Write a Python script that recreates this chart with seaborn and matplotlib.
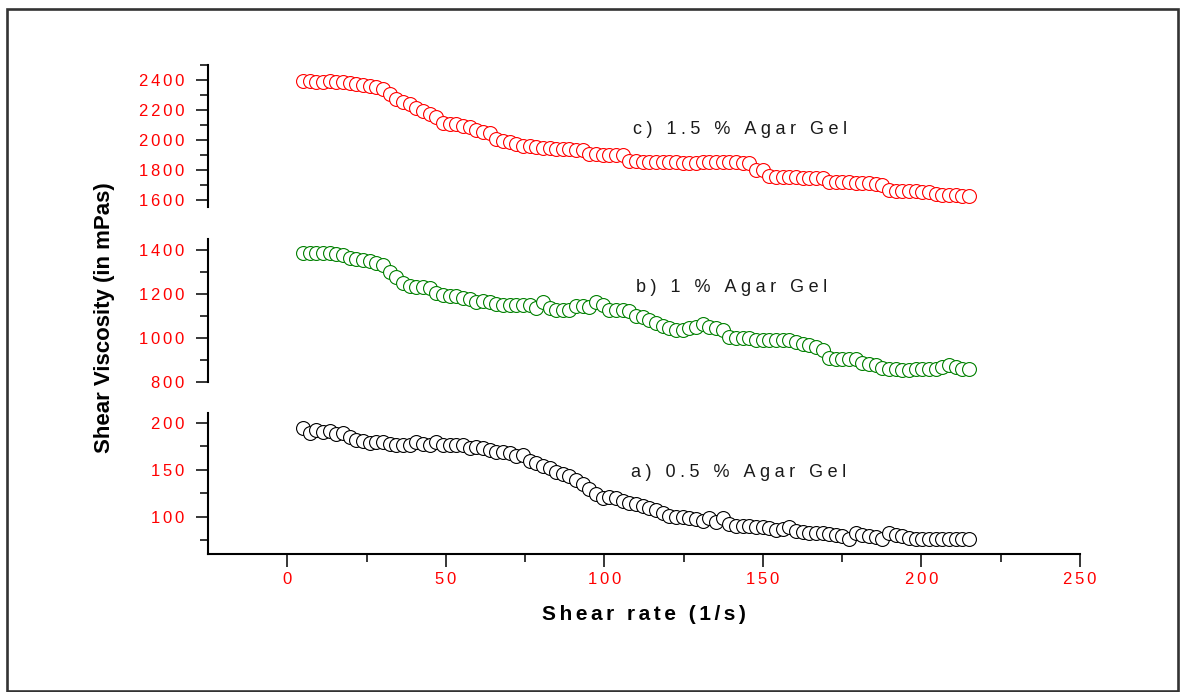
import matplotlib
matplotlib.use("Agg")
import matplotlib.pyplot as plt
import seaborn as sns
from matplotlib.ticker import MultipleLocator, FixedLocator, FuncFormatter
from matplotlib.patches import Rectangle

# Shear rate steps (1/s)
shear_rate = [
    5.0, 7.1, 9.2, 11.3, 13.4, 15.5, 17.6, 19.7, 21.8, 23.9,
    26.0, 28.1, 30.2, 32.3, 34.4, 36.5, 38.6, 40.7, 42.8, 44.9,
    47.0, 49.1, 51.2, 53.3, 55.4, 57.5, 59.6, 61.7, 63.8, 65.9,
    68.0, 70.1, 72.2, 74.3, 76.4, 78.5, 80.6, 82.7, 84.8, 86.9,
    89.0, 91.1, 93.2, 95.3, 97.4, 99.5, 101.6, 103.7, 105.8, 107.9,
    110.0, 112.1, 114.2, 116.3, 118.4, 120.5, 122.6, 124.7, 126.8, 128.9,
    131.0, 133.1, 135.2, 137.3, 139.4, 141.5, 143.6, 145.7, 147.8, 149.9,
    152.0, 154.1, 156.2, 158.3, 160.4, 162.5, 164.6, 166.7, 168.8, 170.9,
    173.0, 175.1, 177.2, 179.3, 181.4, 183.5, 185.6, 187.7, 189.8, 191.9,
    194.0, 196.1, 198.2, 200.3, 202.4, 204.5, 206.6, 208.7, 210.8, 212.9,
    215.0,
]

# Shear viscosity (mPas) of the three gels
visc_15 = [
    2390, 2390, 2388, 2385, 2390, 2388, 2383, 2378, 2370, 2365,
    2360, 2352, 2340, 2305, 2275, 2252, 2240, 2215, 2190, 2172,
    2150, 2110, 2108, 2105, 2090, 2085, 2062, 2050, 2045, 2005,
    1990, 1985, 1970, 1960, 1955, 1950, 1945, 1942, 1938, 1936,
    1935, 1934, 1932, 1905, 1902, 1900, 1900, 1898, 1898, 1858,
    1855, 1853, 1852, 1850, 1850, 1848, 1848, 1847, 1846, 1845,
    1848, 1852, 1850, 1850, 1848, 1848, 1847, 1845, 1800, 1795,
    1755, 1752, 1750, 1748, 1748, 1746, 1745, 1744, 1742, 1720,
    1718, 1716, 1714, 1712, 1710, 1708, 1705, 1700, 1662, 1660,
    1658, 1656, 1654, 1652, 1650, 1635, 1632, 1630, 1628, 1626,
    1625,
]

visc_10 = [
    1388, 1388, 1388, 1388, 1388, 1385, 1377, 1365, 1361, 1357,
    1352, 1343, 1335, 1303, 1280, 1250, 1238, 1234, 1234, 1230,
    1203, 1194, 1191, 1191, 1180, 1176, 1165, 1170, 1162, 1156,
    1152, 1148, 1148, 1148, 1148, 1137, 1164, 1137, 1129, 1129,
    1129, 1144, 1147, 1141, 1164, 1152, 1129, 1129, 1129, 1124,
    1100, 1093, 1081, 1066, 1053, 1043, 1035, 1035, 1043, 1050,
    1061, 1050, 1043, 1035, 1004, 1001, 1001, 997, 992, 992,
    992, 992, 992, 989, 981, 974, 966, 959, 943, 908,
    905, 905, 905, 905, 885, 882, 874, 863, 858, 856,
    855, 855, 856, 857, 858, 858, 866, 874, 866, 858,
    858,
]

visc_05 = [
    194.6, 189, 193, 190, 191, 188, 189, 185, 182, 180.5,
    179, 180, 180, 178, 177, 177, 176, 180, 178, 176,
    179.5, 177, 176, 176, 177, 173, 174, 173, 171, 169.5,
    169.5, 168, 165, 166, 159, 157, 154, 152, 148, 146,
    143, 139, 135, 130, 124, 120, 121, 120, 117, 115,
    113, 111, 109, 107, 104, 101, 100, 99.5, 99, 97,
    95, 99, 94, 98, 92, 90, 89.5, 89.5, 89, 89,
    88, 85.5, 87, 89, 85, 83, 82.5, 82.5, 82, 81,
    80, 79, 76, 82, 80, 79, 78, 76, 82, 80,
    79, 77, 76, 75.5, 75.5, 75.5, 75.5, 75.5, 75.5, 75.5,
    75.5,
]

panel_labels = ["c) 1.5 % Agar Gel", "b) 1 % Agar Gel", "a) 0.5 % Agar Gel"]
x_label = "Shear rate (1/s)"
y_label = "Shear Viscosity (in mPas)"

sns.set_style("white")
plt.rcParams["font.family"] = ["Liberation Sans", "DejaVu Sans"]

W, H = 1180, 692
fig = plt.figure(figsize=(W / 100, H / 100), dpi=100)


def frac_box(left, top, right, bottom):
    return [left / W, 1 - bottom / H, (right - left) / W, (bottom - top) / H]


TRACK = "\u2006"      # spacing between digits of tick labels
TEXT_TRACK = "\u2005"  # spacing between letters of panel captions


def spaced(s, sep):
    return sep.join(list(s))


tick_fmt = FuncFormatter(lambda v, p: spaced(f"{v:g}", TRACK))

panels = [
    dict(vals=visc_15, color="#ff0000", box=(208, 65, 1080, 207),
         ylim=(1550, 2500), major=200, minor=100, label=panel_labels[0],
         lab_xy=(109, 2067)),
    dict(vals=visc_10, color="#008000", box=(208, 239, 1080, 382),
         ylim=(798, 1452), major=200, minor=100, label=panel_labels[1],
         lab_xy=(110, 1231)),
    dict(vals=visc_05, color="#000000", box=(208, 413, 1080, 554),
         ylim=(60, 210.7), major=50, minor=25, label=panel_labels[2],
         lab_xy=(108.5, 147)),
]

axes = []
for i, p in enumerate(panels):
    ax = fig.add_axes(frac_box(*p["box"]))
    sns.scatterplot(x=shear_rate, y=p["vals"], ax=ax, marker="o", s=100,
                    facecolor="white", edgecolor=p["color"], linewidth=0.8,
                    legend=False, clip_on=False, zorder=3)
    ax.set_xlim(-25, 250)
    ax.set_ylim(*p["ylim"])
    ax.set_facecolor("none")
    for side in ["top", "right"]:
        ax.spines[side].set_visible(False)
    ax.spines["left"].set_linewidth(1.5)
    ax.spines["left"].set_color("black")
    ax.yaxis.set_major_locator(MultipleLocator(p["major"]))
    ax.yaxis.set_minor_locator(MultipleLocator(p["minor"]))
    ax.yaxis.set_major_formatter(tick_fmt)
    ax.tick_params(axis="y", which="major", direction="out", length=9,
                   width=1.1, color="black", labelcolor="#ff0000",
                   labelsize=12, pad=8, left=True)
    ax.tick_params(axis="y", which="minor", direction="out", length=6,
                   width=1.1, color="black", left=True)
    if i < 2:
        ax.spines["bottom"].set_visible(False)
        ax.tick_params(axis="x", which="both", bottom=False, labelbottom=False)
    else:
        ax.spines["bottom"].set_linewidth(1.5)
        ax.spines["bottom"].set_color("black")
        ax.xaxis.set_major_locator(FixedLocator([0, 50, 100, 150, 200, 250]))
        ax.xaxis.set_minor_locator(FixedLocator([25, 75, 125, 175, 225]))
        ax.xaxis.set_major_formatter(tick_fmt)
        ax.tick_params(axis="x", which="major", direction="out", length=9,
                       width=1.1, color="black", labelcolor="#ff0000",
                       labelsize=12, pad=4, bottom=True)
        ax.tick_params(axis="x", which="minor", direction="out", length=6,
                       width=1.1, color="black", bottom=True)
    ax.set_xlabel("")
    ax.set_ylabel("")
    ax.text(p["lab_xy"][0], p["lab_xy"][1], spaced(p["label"], TEXT_TRACK),
            fontsize=13, color="#1a1a1a", ha="left", va="center")
    axes.append(ax)

fig.text(643.5 / W, 1 - 614 / H, spaced(x_label, "\u2006"), fontsize=15,
         fontweight="bold", ha="center", va="center", color="black")
fig.text(105 / W, 1 - 318 / H, y_label, fontsize=16, fontweight="bold",
         rotation=90, ha="center", va="center", color="black")

# outer frame
fig.add_artist(Rectangle((7 / W, 1.5 / H), 1171 / W, 681.5 / H,
                         transform=fig.transFigure, fill=False,
                         lw=1.9, ec="#333333"))

fig.savefig("out.png", dpi=100, facecolor="white")
